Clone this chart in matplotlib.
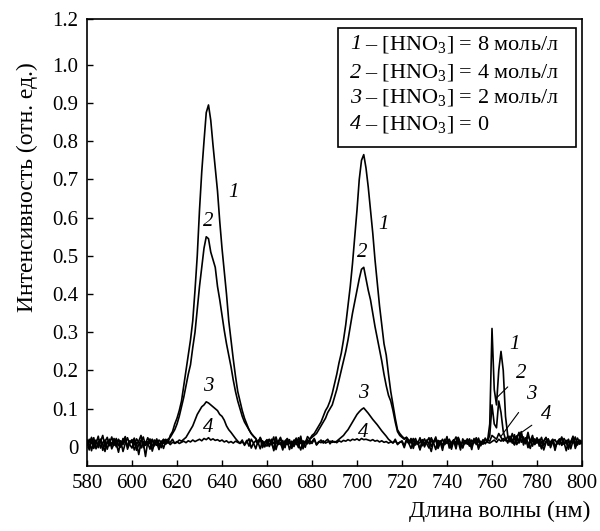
import numpy as np
import matplotlib
matplotlib.use("Agg")
import matplotlib.pyplot as plt
from matplotlib.patches import Rectangle

# wavelength grid, nm (1 nm step)
wavelength = np.arange(580, 801, 1)

# intensities, in 1e-3 units, one row per 10 nm
curve1 = [
    12, -8, 25, 5, 18, -2, 14, 30, 0, 10,
    20, -5, 8, 22, 3, 15, -12, 9, 24, 6,
    -3, 17, 11, -20, 13, 26, 4, 10, -6, 19,
    8, 21, 2, 14, -4, 15, 10, 30, 40, 60,
    75, 95, 120, 160, 200, 240, 280, 330, 410, 500,
    620, 720, 800, 875, 895, 855, 790, 730, 670, 590,
    520, 460, 400, 330, 280, 230, 185, 145, 120, 95,
    75, 60, 45, 35, 28, 22, 8, 22, -2, 12,
    17, 4, 20, -10, 9, 14, 25, 1, 11, 6,
    19, -4, 13, 23, 7, -8, 16, 10, 27, 20,
    30, 35, 45, 55, 65, 80, 95, 105, 120, 140,
    165, 190, 220, 245, 280, 320, 370, 420, 480, 550,
    620, 700, 750, 765, 730, 680, 620, 560, 490, 430,
    370, 320, 270, 240, 190, 145, 110, 75, 45, 35,
    28, 22, 25, 18, 10, 22, 5, 14, -6, 12,
    21, 8, -3, 16, 11, 26, 2, 13, -9, 18,
    9, 20, 4, 15, -5, 24, 10, 0, 17, 7,
    13, -7, 22, 6, 16, 3, 19, 10, 15, 60,
    310, 150, 110, 200, 250, 200, 80, 30, 15, 20,
    8, 28, 14, 35, 5, 22, 12, -4, 18, 9,
    24, 2, 15, -8, 11, 20, 6, 17, -2, 13,
    21, 4, 12, -10, 16, 9, 25, 3, 14, 7,
    15,
]
curve2 = [
    5, 20, -10, 15, 8, 28, -3, 11, 18, -6,
    14, 3, 22, 9, -14, 16, 6, 25, 0, 12,
    19, -8, 7, 15, 30, -2, 13, 5, 21, -11,
    10, 4, 18, 12, 20, 15, 20, 25, 35, 45,
    60, 80, 105, 130, 160, 190, 215, 260, 300, 360,
    420, 470, 520, 550, 545, 510, 490, 470, 420, 385,
    345, 305, 270, 240, 210, 175, 145, 120, 100, 80,
    65, 55, 45, 35, 28, 22, 12, -5, 16, 8,
    2, 19, 11, 26, -7, 13, 6, 17, -2, 22,
    9, 15, 1, 20, 12, 28, -5, 14, 8, 20,
    25, 30, 35, 45, 55, 65, 75, 90, 100, 110,
    130, 150, 175, 200, 225, 250, 280, 315, 350, 380,
    410, 440, 465, 470, 440, 410, 385, 350, 315, 285,
    255, 225, 190, 160, 135, 120, 95, 65, 40, 30,
    25, 20, 25, 12, 20, -4, 15, 9, 24, 3,
    11, 18, 6, -12, 14, 22, 8, 16, 1, 10,
    27, -3, 12, 19, 5, 14, -8, 21, 9, 13,
    2, 18, 10, 24, -6, 12, 7, 20, 15, 30,
    110, 60, 50, 120, 90, 40, 20, 15, 25, 10,
    32, 6, 18, 40, 12, 24, -2, 15, 30, 8,
    13, 20, -5, 16, 25, 4, 12, 19, -9, 14,
    6, 23, 10, 17, 0, 13, 28, -4, 11, 18,
    9,
]
curve3 = [
    18, 2, 10, 24, -5, 12, 20, 7, -12, 15,
    9, 26, 4, 13, 18, -1, 22, 10, 5, 16,
    11, 23, -9, 6, 18, 12, -25, 14, 8, 20,
    3, 15, 10, -2, 19, 7, 14, 12, 20, 9,
    12, 18, 15, 20, 25, 35, 45, 55, 70, 85,
    95, 105, 110, 118, 115, 110, 105, 100, 95, 85,
    80, 70, 55, 45, 38, 30, 22, 15, 10, 18,
    4, 13, 21, -3, 10, 16, 7, 25, 11, 0,
    14, 20, 8, -5, 17, 10, 22, 3, 12, 18,
    -7, 11, 15, 6, 24, 9, 13, -1, 19, 8,
    14, 22, 5, 12, 18, 10, 15, 20, 8, 16,
    12, 15, 20, 25, 30, 38, 45, 55, 65, 75,
    85, 92, 98, 102, 95, 88, 80, 72, 65, 58,
    50, 42, 35, 28, 20, 15, 10, 20, 6, 12,
    13, -2, 17, 9, 22, 4, 15, 11, -8, 19,
    7, 14, 24, 1, 12, 18, -4, 10, 20, 6,
    15, 9, -6, 18, 11, 25, 3, 13, 8, 21,
    10, 0, 16, 12, 23, 5, 14, 8, 18, 15,
    30, 25, 20, 35, 25, 15, 22, 10, 28, 14,
    5, 20, 38, 12, 26, 8, 30, 16, 2, 21,
    10, 17, -3, 14, 24, 6, 13, 20, 0, 11,
    18, 7, 22, 12, -6, 15, 10, 26, 5, 16,
    12,
]
curve4 = [
    8, 15, 22, -4, 12, 6, 19, -9, 14, 25,
    3, 11, 17, 0, 20, 9, 13, 27, -6, 10,
    16, 5, 21, 12, -3, 14, 8, 24, 10, 2,
    18, 11, -7, 15, 9, 20, 13, 6, 12, 10,
    14, 9, 12, 15, 11, 16, 13, 18, 14, 17,
    20, 16, 22, 19, 24, 18, 21, 17, 19, 15,
    18, 13, 16, 11, 14, 10, 15, 12, 9, 13,
    7, 17, 2, 20, 10, -5, 15, 23, 8, 12,
    19, 1, 14, 9, 26, 6, 11, -8, 16, 21,
    10, 4, 18, 13, -2, 22, 8, 15, 11, 17,
    9, 20, 6, 14, 11, 16, 10, 13, 15, 12,
    14, 11, 16, 13, 17, 15, 19, 16, 20, 18,
    21, 17, 22, 19, 20, 18, 16, 19, 15, 17,
    13, 16, 12, 14, 10, 13, 11, 15, 9, 12,
    16, 3, 20, 10, -4, 14, 22, 7, 12, 18,
    0, 15, 9, 24, 11, -7, 17, 13, 5, 20,
    12, 19, 2, 14, 26, 8, 11, -3, 16, 10,
    21, 6, 13, 18, -1, 15, 9, 23, 12, 10,
    14, 18, 12, 20, 15, 22, 16, 28, 13, 35,
    18, 24, 10, 30, 20, 14, 38, 12, 22, 6,
    17, 11, 25, 4, 15, 21, -2, 13, 19, 8,
    14, 26, 7, 12, 20, -5, 16, 10, 23, 9,
    13,
]
curves = [curve1, curve2, curve3, curve4]

legend_nums = ["1", "2", "3", "4"]
legend_texts = [
    "– [HNO$_3$] = 8 моль/л",
    "– [HNO$_3$] = 4 моль/л",
    "– [HNO$_3$] = 2 моль/л",
    "– [HNO$_3$] = 0",
]

xticks = list(range(580, 801, 20))
# the printed axis has no 1.1 label, the top tick is labelled 1.2
yticks = [0, 0.1, 0.2, 0.3, 0.4, 0.5, 0.6, 0.7, 0.8, 0.9, 1.0, 1.12]
ytick_labels = ["0", "0.1", "0.2", "0.3", "0.4", "0.5", "0.6", "0.7",
                "0.8", "0.9", "1.0", "1.2"]

plt.rcParams["font.family"] = ["Liberation Serif", "DejaVu Serif"]
plt.rcParams["mathtext.fontset"] = "custom"
plt.rcParams["mathtext.rm"] = "Liberation Serif"

fig = plt.figure(figsize=(6.0, 5.31), dpi=100)
ax = fig.add_axes([0.145, 0.1224, 0.825, 0.8418])

for c in curves:
    ax.plot(wavelength, np.array(c) / 1000.0, color="black", lw=1.2)

ax.set_xlim(580, 800)
ax.set_ylim(-0.05, 1.12)
ax.set_xticks(xticks)
ax.set_yticks(yticks)
ax.set_yticklabels(ytick_labels)
ax.tick_params(direction="in", length=4, width=1, labelsize=15, pad=6,
               top=False, right=False)
for s in ax.spines.values():
    s.set_linewidth(1.2)

ax.set_ylabel("Интенсивность (отн. ед.)", fontsize=17, va="center")
ax.yaxis.set_label_coords(-0.121, 0.625)
ax.set_xlabel("Длина волны (нм)", fontsize=17, loc="right", va="center")
ax.xaxis.set_label_coords(1.016, -0.101)

# curve numbers
lab = dict(fontsize=15, style="italic", ha="center", va="center")
for t, x, y in [("1", 644.9, 0.667), ("2", 633.8, 0.589), ("3", 633.8, 0.157),
                ("4", 633.8, 0.05), ("1", 711.6, 0.581), ("2", 702.2, 0.508),
                ("3", 702.7, 0.141), ("4", 702.7, 0.037), ("1", 770.2, 0.267)]:
    ax.text(x, y, t, **lab)
for t, xy, xyt in [("2", (761.8, 0.127), (773.2, 0.193)),
                   ("3", (763.9, 0.027), (777.6, 0.136)),
                   ("4", (769.5, 0.023), (784.3, 0.084))]:
    ax.annotate(t, xy=xy, xytext=xyt, **lab,
                arrowprops=dict(arrowstyle="-", color="black", lw=0.8,
                                shrinkA=6, shrinkB=0))

# legend box
ax.add_patch(Rectangle((0.507, 0.714), 0.481, 0.266, transform=ax.transAxes,
                       fill=False, edgecolor="black", lw=1.2, zorder=5))
for n, s, y in zip(legend_nums, legend_texts, [0.942, 0.879, 0.823, 0.763]):
    ax.text(0.531, y, n, transform=ax.transAxes, fontsize=16, style="italic",
            va="center")
    ax.text(0.562, y, s, transform=ax.transAxes, fontsize=16, va="center")

fig.savefig("out.png", dpi=100)
